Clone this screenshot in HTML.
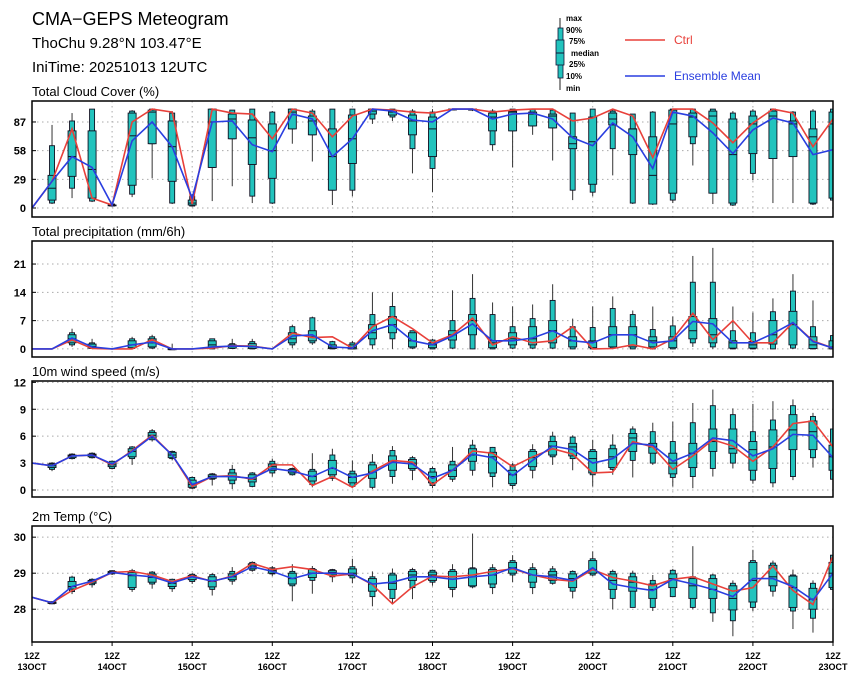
<!DOCTYPE html>
<html><head><meta charset="utf-8"><style>
html,body{margin:0;padding:0;background:#fff;}
svg{display:block;font-family:"Liberation Sans",sans-serif;}
</style></head><body>
<svg id="chart" width="860" height="680" viewBox="0 0 860 680" xmlns="http://www.w3.org/2000/svg">
<text x="32" y="25" font-size="18">CMA−GEPS Meteogram</text>
<text x="32" y="48" font-size="15">ThoChu 9.28°N 103.47°E</text>
<text x="32" y="72" font-size="15">IniTime: 20251013 12UTC</text>
<g>
<line x1="560" y1="18" x2="560" y2="90" stroke="#222" stroke-width="1"/>
<rect x="558" y="28" width="5" height="50" fill="#22c3bd" stroke="#113" stroke-width="0.8"/>
<rect x="556" y="40" width="8" height="25" fill="#22c3bd" stroke="#113" stroke-width="0.8"/>
<line x1="556" y1="53" x2="564" y2="53" stroke="#113"/>
<g font-size="8" font-weight="bold">
<text x="566" y="21">max</text><text x="566" y="33">90%</text><text x="569" y="44">75%</text>
<text x="571" y="56">median</text><text x="569" y="67">25%</text><text x="566" y="79">10%</text><text x="566" y="91">min</text>
</g></g>
<g>
<line x1="625" y1="40" x2="665" y2="40" stroke="#e8403a" stroke-width="1.5"/>
<text x="674" y="44" font-size="12" fill="#e8403a">Ctrl</text></g>
<g>
<line x1="625" y1="76" x2="665" y2="76" stroke="#2a3ee0" stroke-width="1.5"/>
<text x="674" y="80" font-size="12" fill="#2a3ee0">Ensemble Mean</text></g>
</svg>
<script>
const n=null;
const timeLabels=["13OCT","14OCT","15OCT","16OCT","17OCT","18OCT","19OCT","20OCT","21OCT","22OCT","23OCT"];
const cloudTicks=[0,29,58,87];
const precipTicks=[0,7,14,21];
const windTicks=[0,3,6,9,12];
const tempTicks=[28,29,30];

const cloudMin=[n,4,10,6,2,11,30,4,2,7,22,5,4,65,47,3,12,85,88,35,16,100,98,58,41,74,48,8,12,33,4,3,5,43,4,2,28,5,5,3,6];
const cloudP10=[n,5,20,7,2,14,65,5,2,41,70,12,5,80,74,18,18,90,92,60,40,100,99,64,78,83,81,18,16,60,5,4,8,65,15,3,35,50,52,4,8];
const cloudP25=[n,8,32,10,3,23,65,27,3,41,70,44,30,80,74,18,45,95,94,74,52,100,99,78,78,83,81,60,24,84,54,4,15,72,15,5,55,50,52,5,10];
const cloudMed=[n,20,52,39,3,73,97,62,5,87,90,71,58,97,88,52,70,98,97,88,80,100,100,92,97,95,93,65,67,90,80,33,85,92,93,54,85,93,85,72,85];
const cloudP75=[n,33,78,78,3,96,99,88,8,100,95,89,85,100,93,80,94,100,99,94,92,100,100,96,98,97,95,72,92,96,80,72,99,96,98,90,93,98,88,80,97];
const cloudP90=[n,63,88,100,4,98,100,96,12,100,99,100,97,100,98,100,100,100,100,98,97,100,100,98,100,100,99,96,100,98,95,97,100,100,100,96,98,100,97,98,100];
const cloudMax=[n,84,96,100,4,99,100,98,14,100,99,100,98,100,100,100,100,100,100,100,100,100,100,100,100,100,100,96,100,100,95,98,100,100,100,98,100,100,98,100,100];
const cloudCtrl=[0,27,80,10,3,87,100,97,4,100,96,95,70,100,96,72,93,100,99,97,96,100,100,97,99,100,100,88,91,100,93,51,100,100,86,66,86,100,96,62,90];
const cloudMean=[0,27,52,41,3,68,87,62,10,87,88,64,57,95,90,52,70,100,98,89,87,100,100,90,95,96,90,71,63,86,72,40,97,93,76,55,79,91,86,54,59];

const precipMin=[n,n,0.5,0,n,0,0,0,n,0,0,0,n,0.2,1,0,0,0,0,0,0,0,0,0,0,0,0,0,0,0,0,0,0,0.5,0,0,0,0,0,0,0];
const precipP10=[n,n,1,0.1,n,0.1,0.2,0,n,0,0.1,0,n,1,1.5,0,0,1,2.5,0.2,0,0.2,0,0,0.2,0.2,0.2,0,0,0.2,0,0,0,1.5,0.5,0,0,0,0.2,0,0];
const precipP25=[n,n,1.5,0.2,n,0.3,0.5,0,n,0.2,0.2,0.1,n,1.5,2,0.1,0,2.5,4,0.5,0.3,2.2,3.5,0.3,1,1,1.5,0.5,0.3,0.5,0.5,0.5,0.3,2.5,1.5,0.2,0.2,1.2,1,0.1,0];
const precipMed=[n,n,2.5,0.6,n,1,1.5,0,n,1,0.6,0.5,n,2.5,3,0.4,0.3,4,6,2,1,3.5,7,1.5,2.5,2.5,4.5,2,1.7,3.5,3.5,2,2,4.5,3.5,1.5,1,3.5,6,1,0.5];
const precipP75=[n,n,3.5,1.2,n,2,2.5,0,n,2,1,1.3,n,4,4.5,1,1,6,8,4,1.5,4.5,8.5,2,4,5.5,7,3,2,5.5,5.5,3,3,8,7.5,2,1.8,7,9.3,3,2];
const precipP90=[n,n,4,1.5,n,2.5,3,0,n,2.5,1.3,1.8,n,5.5,7.7,1.8,1.5,8.5,10.5,4.5,2.2,7,12.5,8.5,5.5,7.5,12,5.5,5.3,10,8.5,4.8,5.7,16.5,16.5,4.5,4,9.2,14.3,5.5,3.3];
const precipMax=[n,n,5,2.5,n,3,3.5,1.3,n,2.5,2.5,2.5,n,6,8,2,2,14,14,4.5,2.5,14.5,18.5,11.5,10.5,11,16,7.5,10.5,13,9.5,10.5,8,23,25,10.5,9,12.5,18.5,12,3.3];
const precipCtrl=[0,0,2.2,0.1,0,0,2.3,0,0,0.2,0.8,0.7,0,3.9,2.8,3,0.2,5.5,8,5,1.5,3.5,7.6,1,3,1.5,2,5.5,0,0.1,1,0,2.5,8.8,2.3,7,1.5,1.5,6.5,2,0.2];
const precipMean=[0,0,2.7,0.5,0,1,1.7,0,0,0.5,0.7,0.6,0,3.2,3.5,0.5,0.2,4.5,6,2,1,3.2,6.2,2,2,2.7,4.5,2,1.5,3.5,3.5,1.5,2,6.8,6.2,1.5,1.5,3.8,6.5,1.8,0.2];

const windMin=[n,2.1,3.4,3.5,2.3,2.8,5.4,3.3,0.1,0.5,0.1,0.3,1.5,1.6,0.3,1,0.2,0.1,0.7,1.1,0.2,0.9,1.6,0.3,0.1,1.3,2.8,2.2,0.4,1.7,1.4,2.8,0.4,0.2,1.5,2.4,0.7,0.3,1.1,2.5,0.6];
const windP10=[n,2.3,3.5,3.6,2.4,3.5,5.6,3.5,0.2,1.2,0.7,0.4,1.9,1.7,0.6,1.3,0.4,0.3,1.5,2.2,0.5,1.2,2.2,1.5,0.5,2.2,3.7,3.5,1.7,2.3,3.3,3.0,1.4,1.5,2.4,3.0,1.1,0.8,1.5,3.6,1.2];
const windP25=[n,2.5,3.6,3.7,2.6,3.7,5.8,3.6,0.3,1.3,1.1,0.9,2.2,1.9,1.0,1.7,0.8,1.3,2.2,2.4,0.8,1.5,3.2,1.9,0.7,2.6,3.9,3.8,1.9,2.5,4.3,4.1,1.8,2.5,4.3,4.1,2.2,2.4,4.5,4.5,2.2];
const windMed=[n,2.7,3.8,3.9,2.8,4.3,6.1,3.9,0.6,1.5,1.5,1.2,2.6,2.1,1.5,2.4,1.4,2,3.2,3,1.5,2.2,3.9,3.7,1.7,3.6,4.9,4.8,3.5,3.7,5.8,4.8,3.0,4.1,5.4,4.6,4.5,4.8,6.7,6.5,3.7];
const windP75=[n,2.9,3.9,4,3,4.6,6.4,4.2,1.1,1.7,1.9,1.7,2.9,2.3,2.1,3.3,1.8,2.8,3.8,3.4,2,2.8,4.6,4.2,2.2,4.3,5.4,5.2,4.3,4.6,6.3,5.2,4.1,5.2,6.8,6.8,5.4,6.7,8.4,7.7,5.0];
const windP90=[n,3,4,4.1,3.2,4.8,6.6,4.3,1.4,1.8,2.3,1.9,3.2,2.4,2.3,3.9,2.1,3.1,4.4,3.6,2.4,3.2,5.0,4.75,2.8,4.5,6.0,5.9,4.5,5.0,6.8,6.5,5.4,7.5,9.4,8.4,6.5,7.8,9.4,8.2,6.8];
const windMax=[n,3.1,4.1,4.2,3.3,4.9,6.8,4.4,1.5,1.9,2.8,2,3.5,2.5,4.1,4.6,3.3,4,4.9,3.8,2.6,4.8,5.6,4.8,3.0,5.1,6.5,6.1,5.6,6.2,7.1,7.5,7.6,9.7,11.2,9.1,9.6,9.9,10.1,8.6,6.8];
const windCtrl=[3,2.7,3.8,3.9,2.8,4.4,6.1,3.9,0.4,1.5,1.6,1.2,2.8,2.8,0.5,1.5,0.3,2.1,3.3,3.1,0.6,2.2,4.35,4.1,2.6,3.7,4.6,4.0,1.9,2.0,5.4,4.8,2.3,3.8,5.6,4.9,3.2,4.8,7.4,7.7,4.8];
const windMean=[3,2.7,3.8,3.9,2.9,4.3,6.0,3.9,0.6,1.5,1.5,1.3,2.4,2.1,1.5,2.5,1.4,1.9,3.1,2.9,1.3,2.2,4.0,3.6,1.6,3.3,4.9,4.5,3.0,3.5,5.2,5.0,3.2,4.1,5.8,5.5,3.8,4.6,6.2,6.1,3.6];

const tempMin=[n,28.14,28.42,28.6,28.95,28.48,28.57,28.48,28.7,28.38,28.68,29.04,28.92,28.22,28.43,28.75,28.72,28.08,28.15,28.28,28.65,28.33,28.58,28.42,28.75,28.42,28.68,28.3,28.92,28.0,28.05,27.95,28.35,28.0,27.65,27.25,27.95,28.35,27.45,27.35,28.5];
const tempP10=[n,28.15,28.49,28.68,28.98,28.55,28.7,28.57,28.77,28.55,28.78,29.08,28.98,28.65,28.8,28.9,28.87,28.35,28.3,28.6,28.75,28.55,28.62,28.6,28.95,28.6,28.72,28.5,28.95,28.3,28.05,28.05,28.35,28.05,27.9,27.68,28.05,28.5,27.95,27.75,28.55];
const tempP25=[n,28.16,28.56,28.72,29.0,28.6,28.75,28.63,28.82,28.62,28.82,29.12,29.0,28.7,28.88,28.95,28.93,28.5,28.55,28.8,28.8,28.6,28.65,28.7,29.0,28.75,28.8,28.6,29.0,28.55,28.5,28.3,28.6,28.3,28.3,27.98,28.2,28.65,28.05,28.0,28.6];
const tempMed=[n,28.18,28.63,28.76,29.02,28.93,28.88,28.72,28.9,28.77,28.9,29.2,29.07,28.85,29.0,29.02,29.0,28.7,28.72,28.95,28.95,28.9,28.95,28.95,29.15,28.95,28.95,28.85,29.1,28.8,28.75,28.55,28.85,28.65,28.55,28.3,28.8,28.9,28.6,28.28,29.0];
const tempP75=[n,28.2,28.77,28.8,29.05,29.02,28.98,28.78,28.94,28.9,28.98,29.26,29.12,29.0,29.1,29.07,29.12,28.85,28.95,29.05,29.03,29.05,29.12,29.1,29.3,29.1,29.05,28.98,29.35,28.98,28.9,28.7,28.98,28.85,28.85,28.65,29.3,29.22,28.92,28.58,29.3];
const tempP90=[n,28.21,28.89,28.83,29.07,29.07,29.03,28.83,28.97,28.96,29.05,29.3,29.15,29.05,29.13,29.1,29.18,28.9,29.0,29.1,29.08,29.1,29.15,29.15,29.35,29.15,29.12,29.05,29.4,29.05,29.0,28.8,29.08,28.9,28.95,28.72,29.35,29.28,28.95,28.72,29.5];
const tempMax=[n,28.22,28.93,28.86,29.08,29.12,29.06,28.85,29.0,29.0,29.17,29.33,29.2,29.25,29.2,29.12,29.4,29.05,29.13,29.15,29.1,29.25,30.1,29.25,29.5,29.28,29.2,29.08,29.6,29.1,29.07,28.95,29.12,29.75,28.98,28.8,29.65,29.35,29.1,28.8,29.55];
const tempCtrl=[28.33,28.18,28.52,28.75,29.02,29.05,28.95,28.77,28.93,28.77,28.92,29.27,29.1,29.18,29.1,28.92,28.98,28.68,28.15,28.62,28.92,28.9,28.95,29.05,29.12,28.95,28.83,28.78,29.1,28.88,28.78,28.65,28.83,28.9,28.7,28.5,28.6,29.2,28.52,28.13,29.48];
const tempMean=[28.33,28.18,28.63,28.78,29.02,28.95,28.9,28.73,28.9,28.78,28.9,29.18,29.05,28.85,29.0,29.0,28.98,28.7,28.75,28.9,28.9,28.83,28.9,28.95,29.15,28.95,28.9,28.8,29.15,28.7,28.6,28.52,28.83,28.7,28.55,28.35,28.85,28.85,28.63,28.25,29.0];

const NS='http://www.w3.org/2000/svg';
const svg=document.getElementById('chart');
const X0=32,X1=833;
function xAt(i){return X0+(X1-X0)*i/40;}
function mk(tag,attrs,parent){const e=document.createElementNS(NS,tag);for(const k in attrs)e.setAttribute(k,attrs[k]);(parent||svg).appendChild(e);return e;}

function panel(key,title,top,bot,vmin,vmax,ticks,mn,p10,p25,med,p75,p90,mx,ctrl,mean,showX){
  const y=v=>bot-(v-vmin)/(vmax-vmin)*(bot-top);
  const g=mk('g',{});
  
  
  const t=mk('text',{x:32,y:top-5,'font-size':13},g);t.textContent=title;
  
  
  const cp=mk('clipPath',{id:'cp-'+key},g);mk('rect',{x:X0,y:top,width:X1-X0,height:bot-top},cp);
  for(let d=1;d<10;d++){const gx=xAt(d*4);const l=mk('line',{x1:gx,y1:top,x2:gx,y2:bot,stroke:'#aaa','stroke-dasharray':'1.5,3.5','stroke-width':1},g);
    
    }
  ticks.forEach(v=>{const ty=y(v);
    const l=mk('line',{x1:X0,y1:ty,x2:X1,y2:ty,stroke:'#aaa','stroke-dasharray':'1.5,3.5'},g);
    
    
    mk('line',{x1:X0,y1:ty,x2:X0+4,y2:ty,stroke:'#000'},g);
    const tx=mk('text',{x:26,y:ty+4,'font-size':11,'font-weight':'bold','text-anchor':'end'},g);tx.textContent=v;
    
    });
  const bg=mk('g',{'clip-path':'url(#cp-'+key+')'},g);
  for(let i=0;i<41;i++){if(mn[i]===null)continue;const cx=xAt(i);
    const b=mk('g',{},bg);
    
    
    mk('line',{x1:cx,y1:y(mx[i]),x2:cx,y2:y(mn[i]),stroke:'#333','stroke-width':1},b);
    mk('rect',{x:cx-2.5,y:y(p90[i]),width:5,height:Math.max(0.8,y(p10[i])-y(p90[i])),fill:'#22c3bd',stroke:'#112','stroke-width':0.9},b);
    mk('rect',{x:cx-4,y:y(p75[i]),width:8,height:Math.max(0.8,y(p25[i])-y(p75[i])),fill:'#22c3bd',stroke:'#112','stroke-width':0.9},b);
    mk('line',{x1:cx-4,y1:y(med[i]),x2:cx+4,y2:y(med[i]),stroke:'#112','stroke-width':1},b);}
  const pc=mk('polyline',{points:ctrl.map((v,i)=>xAt(i)+','+y(v)).join(' '),fill:'none',stroke:'#e8403a','stroke-width':1.6},bg);
  
  
  const pm=mk('polyline',{points:mean.map((v,i)=>xAt(i)+','+y(v)).join(' '),fill:'none',stroke:'#2a3ee0','stroke-width':1.6},bg);
  
  
  const fr=mk('rect',{x:X0,y:top,width:X1-X0,height:bot-top,fill:'none',stroke:'#000','stroke-width':1.5},g);
  
  
  if(showX){timeLabels.forEach((lab,d)=>{const tx=xAt(d*4);
    mk('line',{x1:tx,y1:bot,x2:tx,y2:bot+4,stroke:'#000'},g);
    const a=mk('text',{x:tx,y:bot+17,'font-size':9,'font-weight':'bold','text-anchor':'middle'},g);a.textContent='12Z';
    
    
    const b2=mk('text',{x:tx,y:bot+28,'font-size':9,'font-weight':'bold','text-anchor':'middle'},g);b2.textContent=lab;
    
    });}
}
panel('cloud','Total Cloud Cover (%)',101,217,-9.1,108.2,cloudTicks,cloudMin,cloudP10,cloudP25,cloudMed,cloudP75,cloudP90,cloudMax,cloudCtrl,cloudMean,false);
panel('precip','Total precipitation (mm/6h)',241,357,-2.0,26.7,precipTicks,precipMin,precipP10,precipP25,precipMed,precipP75,precipP90,precipMax,precipCtrl,precipMean,false);
panel('wind','10m wind speed (m/s)',381,497,-0.78,12.15,windTicks,windMin,windP10,windP25,windMed,windP75,windP90,windMax,windCtrl,windMean,false);
panel('temp','2m Temp (°C)',526,642,27.09,30.31,tempTicks,tempMin,tempP10,tempP25,tempMed,tempP75,tempP90,tempMax,tempCtrl,tempMean,true);
</script>
</body></html>
